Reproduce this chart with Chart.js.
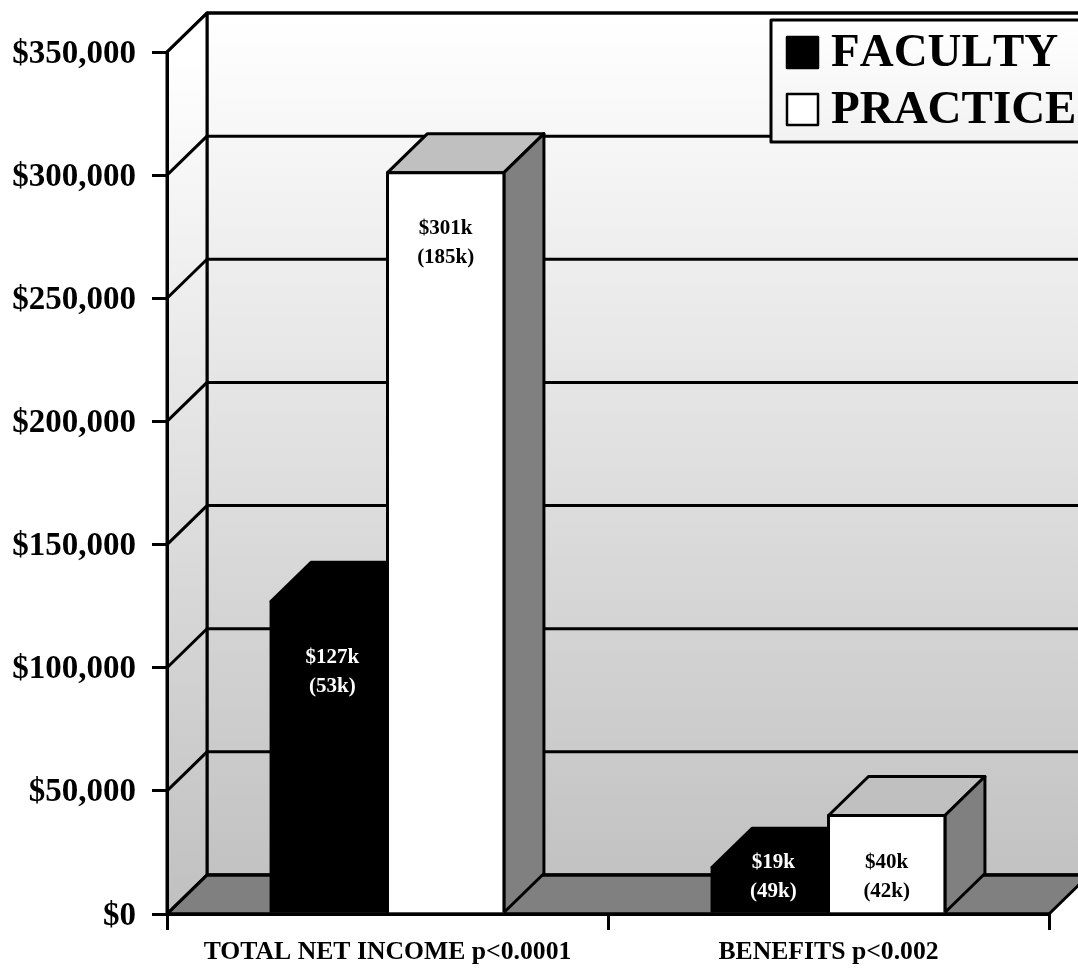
<!DOCTYPE html>
<html>
<head>
<meta charset="utf-8">
<title>Faculty and practice income</title>
<script src="https://cdn.jsdelivr.net/npm/chart.js@4"></script>
<style>
  html, body { margin: 0; padding: 0; background: #fff; overflow: hidden; }
  canvas { display: block; }
</style>
</head>
<body>
<canvas id="chart" width="1078" height="969"></canvas>
<script>
const categories = ['TOTAL NET INCOME p<0.0001', 'BENEFITS p<0.002'];
const facultyValues = [127000, 19000];
const practiceValues = [301000, 40000];
const facultyMeans = ['$127k', '$19k'];
const facultySpreads = ['(53k)', '(49k)'];
const practiceMeans = ['$301k', '$40k'];
const practiceSpreads = ['(185k)', '(42k)'];
const seriesNames = ['FACULTY', 'PRACTICE'];

const SERIF = '"Liberation Serif", "Times New Roman", serif';
const DEPTH_X = 40;
const DEPTH_Y = 39;
const LINE = 3;

function polygon(ctx, pts, fill) {
  ctx.beginPath();
  pts.forEach((p, i) => (i ? ctx.lineTo(p[0], p[1]) : ctx.moveTo(p[0], p[1])));
  ctx.closePath();
  if (fill) { ctx.fillStyle = fill; ctx.fill(); }
  ctx.stroke();
}

function strokeStyle(ctx) {
  ctx.strokeStyle = '#000';
  ctx.lineWidth = LINE;
  ctx.lineJoin = 'round';
}

// Back wall, side wall and floor of the 3D box, with gridlines carried across the walls.
const boxWalls = {
  id: 'boxWalls',
  beforeDraw(chart) {
    const { ctx, chartArea: a, scales: { y } } = chart;
    const floorY = y.getPixelForValue(0);
    const topY = y.getPixelForValue(350000);
    ctx.save();
    strokeStyle(ctx);

    const back = ctx.createLinearGradient(0, topY - DEPTH_Y, 0, floorY - DEPTH_Y);
    back.addColorStop(0, '#ffffff');
    back.addColorStop(1, '#c2c2c2');
    polygon(ctx, [[a.left + DEPTH_X, topY - DEPTH_Y], [a.right + DEPTH_X, topY - DEPTH_Y],
                  [a.right + DEPTH_X, floorY - DEPTH_Y], [a.left + DEPTH_X, floorY - DEPTH_Y]], back);

    const side = ctx.createLinearGradient(0, topY, 0, floorY);
    side.addColorStop(0, '#ffffff');
    side.addColorStop(1, '#c0c0c0');
    polygon(ctx, [[a.left, topY], [a.left + DEPTH_X, topY - DEPTH_Y],
                  [a.left + DEPTH_X, floorY - DEPTH_Y], [a.left, floorY]], side);

    polygon(ctx, [[a.left, floorY], [a.left + DEPTH_X, floorY - DEPTH_Y],
                  [a.right + DEPTH_X, floorY - DEPTH_Y], [a.right, floorY]], '#808080');

    y.ticks.forEach(t => {
      const py = y.getPixelForValue(t.value);
      ctx.beginPath();
      ctx.moveTo(a.left, py);
      ctx.lineTo(a.left + DEPTH_X, py - DEPTH_Y);
      ctx.lineTo(a.right + DEPTH_X, py - DEPTH_Y);
      ctx.stroke();
    });
    ctx.restore();
  }
};

// Top and right faces of each bar, extruded from the element the bar controller placed.
const barFaces = {
  id: 'barFaces',
  beforeDatasetsDraw(chart) {
    const { ctx } = chart;
    ctx.save();
    strokeStyle(ctx);
    chart.data.datasets.forEach((ds, i) => {
      chart.getDatasetMeta(i).data.forEach(bar => {
        const l = bar.x - bar.width / 2, r = bar.x + bar.width / 2;
        const t = bar.y, b = bar.base;
        polygon(ctx, [[l, t], [l + DEPTH_X, t - DEPTH_Y], [r + DEPTH_X, t - DEPTH_Y], [r, t]], ds.topColor);
        polygon(ctx, [[r, t], [r + DEPTH_X, t - DEPTH_Y], [r + DEPTH_X, b - DEPTH_Y], [r, b]], ds.sideColor);
      });
    });
    ctx.restore();
  }
};

// Bar outlines, two-line value captions, and the legend panel in the top corner.
const captions = {
  id: 'captions',
  afterDatasetsDraw(chart) {
    const { ctx, chartArea: a, scales: { y } } = chart;
    ctx.save();
    strokeStyle(ctx);
    chart.data.datasets.forEach((ds, i) => {
      chart.getDatasetMeta(i).data.forEach(bar => {
        const l = bar.x - bar.width / 2, r = bar.x + bar.width / 2;
        ctx.beginPath();
        ctx.moveTo(l, bar.base);
        ctx.lineTo(l, bar.y);
        ctx.lineTo(r, bar.y);
        ctx.lineTo(r, bar.base);
        ctx.stroke();
      });
    });
    const baseY = y.getPixelForValue(0);
    ctx.beginPath();
    ctx.moveTo(a.left, baseY);
    ctx.lineTo(a.right, baseY);
    ctx.stroke();

    ctx.textAlign = 'center';
    ctx.textBaseline = 'middle';
    ctx.font = 'bold 21px ' + SERIF;
    chart.data.datasets.forEach((ds, i) => {
      ctx.fillStyle = ds.captionColor;
      chart.getDatasetMeta(i).data.forEach((bar, j) => {
        const first = Math.min(bar.y + 56, bar.base - 50);
        ctx.fillText(ds.means[j], bar.x + ds.captionShift, first);
        ctx.fillText(ds.spreads[j], bar.x + ds.captionShift, first + 29);
      });
    });

    // Legend panel runs off the right edge of the canvas.
    const left = 771, top = 20, bottom = 142;
    ctx.beginPath();
    ctx.rect(left, top, 400, bottom - top);
    const g = ctx.createLinearGradient(0, top, 0, bottom);
    g.addColorStop(0, '#ffffff');
    g.addColorStop(1, '#f2f2f2');
    ctx.fillStyle = g;
    ctx.fill();
    ctx.stroke();

    ctx.textAlign = 'left';
    ctx.font = 'bold 47px ' + SERIF;
    ctx.fontKerning = 'none';
    chart.data.datasets.forEach((ds, i) => {
      const rowTop = 36 + i * 57;
      ctx.fillStyle = ds.backgroundColor;
      ctx.fillRect(786, rowTop, 33, 33);
      ctx.lineWidth = 2.5;
      ctx.strokeRect(787, rowTop + 1, 31, 31);
      ctx.fillStyle = '#000';
      ctx.fillText(ds.label, 831, rowTop + 18);
    });
    ctx.restore();
  }
};

new Chart(document.getElementById('chart'), {
  type: 'bar',
  data: {
    labels: categories,
    datasets: [
      { label: seriesNames[0], data: facultyValues, backgroundColor: '#000000',
        topColor: '#000000', sideColor: '#000000', captionColor: '#ffffff', captionShift: 3,
        means: facultyMeans, spreads: facultySpreads },
      { label: seriesNames[1], data: practiceValues, backgroundColor: '#ffffff',
        topColor: '#c0c0c0', sideColor: '#808080', captionColor: '#000000', captionShift: 0,
        means: practiceMeans, spreads: practiceSpreads }
    ]
  },
  plugins: [boxWalls, barFaces, captions],
  options: {
    responsive: false,
    animation: false,
    layout: { padding: { top: 52, right: 29, left: 0, bottom: 0 } },
    datasets: { bar: { categoryPercentage: 0.528, barPercentage: 1, borderWidth: 0 } },
    plugins: { legend: { display: false }, title: { display: false }, tooltip: { enabled: false } },
    scales: {
      x: {
        afterFit(scale) { scale.height = 55; },
        border: { color: '#000', width: LINE },
        grid: { color: '#000', lineWidth: LINE, drawOnChartArea: false, tickLength: 16 },
        ticks: {
          color: '#000', padding: 7, maxRotation: 0, minRotation: 0, autoSkip: false,
          font: { family: SERIF, weight: 'bold', size: 25.7 }
        }
      },
      y: {
        min: 0, max: 350000,
        afterFit(scale) { scale.width = 167; },
        border: { color: '#000', width: LINE },
        grid: { color: '#000', lineWidth: LINE, drawOnChartArea: false, tickLength: 15 },
        ticks: {
          stepSize: 50000, color: '#000', padding: 16, labelOffset: 2,
          font: { family: SERIF, weight: 'bold', size: 33 },
          callback: v => '$' + Number(v).toLocaleString('en-US')
        }
      }
    }
  }
});
</script>
</body>
</html>
